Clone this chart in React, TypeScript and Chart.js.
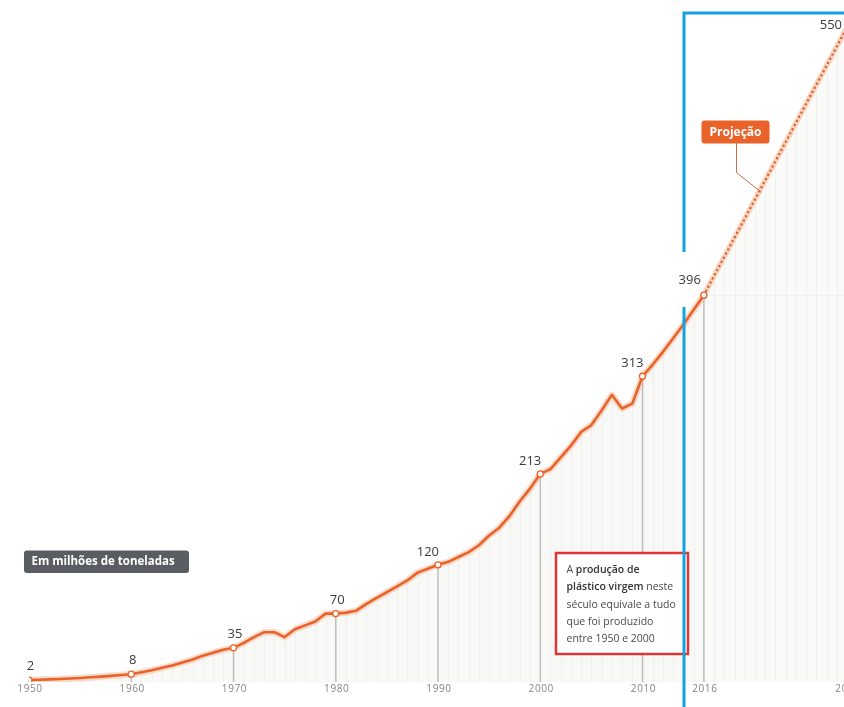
import { useEffect, useRef } from "react";
import { Chart, registerables } from "chart.js";

Chart.register(...registerables);

// ---- Data ----
const years = [
  1950, 1951, 1952, 1953, 1954, 1955, 1956, 1957, 1958, 1959,
  1960, 1961, 1962, 1963, 1964, 1965, 1966, 1967, 1968, 1969,
  1970, 1971, 1972, 1973, 1974, 1975, 1976, 1977, 1978, 1979,
  1980, 1981, 1982, 1983, 1984, 1985, 1986, 1987, 1988, 1989,
  1990, 1991, 1992, 1993, 1994, 1995, 1996, 1997, 1998, 1999,
  2000, 2001, 2002, 2003, 2004, 2005, 2006, 2007, 2008, 2009,
  2010, 2011, 2012, 2013, 2014, 2015, 2016,
];
const production = [
  2, 2.3, 2.7, 3.1, 3.6, 4.1, 4.8, 5.5, 6.3, 7.1,
  8, 10, 12, 14.5, 17, 20, 23, 27, 30, 33,
  35, 40, 46, 51, 51, 46, 54, 58, 62, 70,
  70, 71, 73, 80, 86, 92, 98, 104, 112, 116,
  120, 123, 128, 133, 140, 150, 158, 170, 185, 198,
  213, 218, 230, 242, 256, 263, 278, 294, 280, 285,
  313, 325, 338, 352, 366, 381, 396,
];
const projectionYears = [2016, 2030];
const projectionValues = [396, 550];
const markedYears = [1950, 1960, 1970, 1980, 1990, 2000, 2010, 2016];
const tickYears = [1950, 1960, 1970, 1980, 1990, 2000, 2010, 2016, 2030];
const unitLabel = "Em milhões de toneladas";
const projectionLabel = "Projeção";
const highlightYear = 2014.05;
const noteLines: [string, boolean][][] = [
  [["A ", false], ["produção de", true]],
  [["plástico virgem", true], [" neste", false]],
  [["século equivale a tudo", false]],
  [["que foi produzido", false]],
  [["entre 1950 e 2000", false]],
];

const ORANGE = "#e8622a";
const FONT = '"Open Sans", "Noto Sans", sans-serif';

function roundRect(ctx: CanvasRenderingContext2D, x: number, y: number, w: number, h: number, r: number) {
  ctx.beginPath();
  ctx.moveTo(x + r, y);
  ctx.lineTo(x + w - r, y);
  ctx.quadraticCurveTo(x + w, y, x + w, y + r);
  ctx.lineTo(x + w, y + h - r);
  ctx.quadraticCurveTo(x + w, y + h, x + w - r, y + h);
  ctx.lineTo(x + r, y + h);
  ctx.quadraticCurveTo(x, y + h, x, y + h - r);
  ctx.lineTo(x, y + r);
  ctx.quadraticCurveTo(x, y, x + r, y);
  ctx.closePath();
}

const decor = {
  id: "decor",
  beforeDatasetsDraw(chart: any) {
    const { ctx, chartArea, scales } = chart;
    const xs = scales.x, ys = scales.y, y2 = scales.y2;
    const bottom = ys.getPixelForValue(0);
    ctx.save();
    // clip to area under the curves, draw yearly stripes
    ctx.beginPath();
    ctx.moveTo(xs.getPixelForValue(years[0]), bottom);
    years.forEach((yr, i) => ctx.lineTo(xs.getPixelForValue(yr), ys.getPixelForValue(production[i])));
    projectionYears.forEach((yr, i) => ctx.lineTo(xs.getPixelForValue(yr), y2.getPixelForValue(projectionValues[i])));
    ctx.lineTo(xs.getPixelForValue(projectionYears[projectionYears.length - 1]), bottom);
    ctx.closePath();
    ctx.clip();
    ctx.strokeStyle = "#efefec";
    ctx.lineWidth = 1;
    for (let yr = xs.min; yr <= xs.max; yr++) {
      const px = Math.round(xs.getPixelForValue(yr)) + 0.5;
      ctx.beginPath();
      ctx.moveTo(px, chartArea.top);
      ctx.lineTo(px, bottom);
      ctx.stroke();
    }
    ctx.restore();

    // faint reference line at last real value
    ctx.save();
    const lastVal = production[production.length - 1];
    const hy = Math.round(ys.getPixelForValue(lastVal)) + 0.5;
    ctx.strokeStyle = "#f2f2f0";
    ctx.lineWidth = 1;
    ctx.beginPath();
    ctx.moveTo(xs.getPixelForValue(years[years.length - 1]), hy);
    ctx.lineTo(chart.width, hy);
    ctx.stroke();

    // marker drop lines
    ctx.strokeStyle = "#bcbcbc";
    ctx.lineWidth = 1.4;
    markedYears.forEach((yr) => {
      const v = production[years.indexOf(yr)];
      const px = xs.getPixelForValue(yr);
      ctx.beginPath();
      ctx.moveTo(px, ys.getPixelForValue(v));
      ctx.lineTo(px, bottom);
      ctx.stroke();
    });
    ctx.restore();
  },
  afterDatasetsDraw(chart: any) {
    const { ctx, scales } = chart;
    const xs = scales.x, ys = scales.y, y2 = scales.y2;
    const bottom = ys.getPixelForValue(0);
    ctx.save();

    // value labels
    ctx.fillStyle = "#3a3a3a";
    ctx.font = `13px ${FONT}`;
    ctx.textBaseline = "middle";
    markedYears.forEach((yr) => {
      const v = production[years.indexOf(yr)];
      const px = xs.getPixelForValue(yr);
      const py = ys.getPixelForValue(v);
      if (v < 100) {
        ctx.textAlign = "center";
        ctx.fillText(String(v), px + 1.5, py - 13.5);
      } else if (yr === projectionYears[0]) {
        ctx.textAlign = "right";
        ctx.fillText(String(v), px - 3, py - 15);
      } else {
        ctx.textAlign = "right";
        ctx.fillText(String(v), px + 1, py - 12.5);
      }
    });
    {
      const n = projectionYears.length - 1;
      const px = xs.getPixelForValue(projectionYears[n]);
      const py = y2.getPixelForValue(projectionValues[n]);
      ctx.textAlign = "right";
      ctx.fillText(String(projectionValues[n]), px - 5, py - 2.5);
    }

    // x tick labels
    ctx.fillStyle = "#858585";
    ctx.font = `10px ${FONT}`;
    (ctx as any).letterSpacing = "0.6px";
    ctx.textAlign = "center";
    ctx.textBaseline = "middle";
    tickYears.forEach((yr) => {
      ctx.fillText(String(yr), xs.getPixelForValue(yr) + 1, bottom + 7.5);
    });
    (ctx as any).letterSpacing = "0px";

    // unit label
    ctx.fillStyle = "#595d61";
    roundRect(ctx, 24, 550.5, 165, 22.5, 3);
    ctx.fill();
    ctx.fillStyle = "#ffffff";
    ctx.font = `bold 11.5px ${FONT}`;
    ctx.textAlign = "left";
    ctx.fillText(unitLabel, 31.5, 562);

    // projection label + leader
    ctx.strokeStyle = "#c96e45";
    ctx.lineWidth = 1;
    ctx.beginPath();
    ctx.moveTo(736.5, 143);
    ctx.lineTo(736.5, 172.5);
    ctx.lineTo(761.5, 192.5);
    ctx.stroke();
    ctx.fillStyle = ORANGE;
    roundRect(ctx, 701.5, 120.5, 68, 23, 3);
    ctx.fill();
    ctx.fillStyle = "#ffffff";
    ctx.font = `bold 12px ${FONT}`;
    ctx.textAlign = "center";
    ctx.fillText(projectionLabel, 735.5, 132.5);

    // red note box
    ctx.fillStyle = "#ffffff";
    ctx.fillRect(556, 553, 132, 101);
    ctx.strokeStyle = "#e03535";
    ctx.lineWidth = 2.5;
    ctx.strokeRect(556, 553, 132, 101);
    ctx.textAlign = "left";
    ctx.textBaseline = "middle";
    noteLines.forEach((segs, i) => {
      let cx = 566.5;
      const cy = 570 + i * 17.3;
      segs.forEach(([t, b]) => {
        ctx.font = `${b ? "600 " : ""}10.5px ${FONT}`;
        ctx.fillStyle = b ? "#333333" : "#4a4a4a";
        ctx.fillText(t, cx, cy);
        cx += ctx.measureText(t).width;
      });
    });

    // blue highlight lines
    const bx = Math.round(xs.getPixelForValue(highlightYear));
    ctx.strokeStyle = "#12a2df";
    ctx.lineWidth = 3;
    ctx.lineCap = "butt";
    ctx.beginPath();
    ctx.moveTo(bx, 13);
    ctx.lineTo(chart.width, 13);
    ctx.moveTo(bx, 11.5);
    ctx.lineTo(bx, 252);
    ctx.moveTo(bx, 307);
    ctx.lineTo(bx, chart.height);
    ctx.stroke();

    ctx.restore();
  },
};

export default function App() {
  const ref = useRef<HTMLCanvasElement | null>(null);

  useEffect(() => {
    if (!ref.current) return;
    const mainPts = years.map((yr, i) => ({ x: yr, y: production[i] }));
    const projPts = projectionYears.map((yr, i) => ({ x: yr, y: projectionValues[i] }));
    const chart = new Chart(ref.current, {
      type: "line",
      data: {
        datasets: [
          {
            label: "Produção",
            data: mainPts,
            yAxisID: "y",
            borderColor: ORANGE,
            borderWidth: 2.6,
            borderJoinStyle: "round",
            borderCapStyle: "round",
            tension: 0,
            fill: false,
            pointRadius: (c: any) => (markedYears.includes(c.raw?.x) ? 3 : 0),
            pointBackgroundColor: "#ffffff",
            pointBorderColor: ORANGE,
            pointBorderWidth: 1.3,
            order: 1,
          },
          {
            label: "halo",
            data: mainPts,
            yAxisID: "y",
            borderColor: "rgba(245,165,125,0.4)",
            borderWidth: 6.5,
            borderJoinStyle: "round",
            tension: 0,
            pointRadius: 0,
            fill: "origin",
            backgroundColor: "#f8f8f6",
            order: 4,
          },
          {
            label: "Projeção",
            data: projPts,
            yAxisID: "y2",
            borderColor: "#cc6236",
            borderWidth: 2.4,
            borderDash: [0, 4.7],
            borderCapStyle: "round",
            pointRadius: 0,
            fill: false,
            order: 2,
          },
          {
            label: "Projeção halo",
            data: projPts,
            yAxisID: "y2",
            borderColor: "#f9d2bb",
            borderWidth: 5.5,
            pointRadius: 0,
            fill: "origin",
            backgroundColor: "#fafaf8",
            order: 3,
          },
        ],
      },
      options: {
        animation: false,
        responsive: false,
        devicePixelRatio: 1,
        layout: { padding: { left: 29, right: 33, top: 8, bottom: 25 } },
        scales: {
          x: { type: "linear", min: 1950, max: 2030, display: false },
          y: { type: "linear", min: 0, max: 690, display: false },
          y2: { type: "linear", min: 173.2, max: 561.2, display: false },
        },
        plugins: {
          legend: { display: false },
          tooltip: { enabled: false },
          filler: { drawTime: "beforeDatasetsDraw" },
        },
      } as any,
      plugins: [decor as any],
    });
    return () => chart.destroy();
  }, []);

  return (
    <div
      style={{
        position: "fixed",
        left: 0,
        top: 0,
        width: 844,
        height: 707,
        overflow: "hidden",
        background: "#ffffff",
      }}
    >
      <canvas ref={ref} width={880} height={707} style={{ display: "block", width: 880, height: 707 }} />
    </div>
  );
}
